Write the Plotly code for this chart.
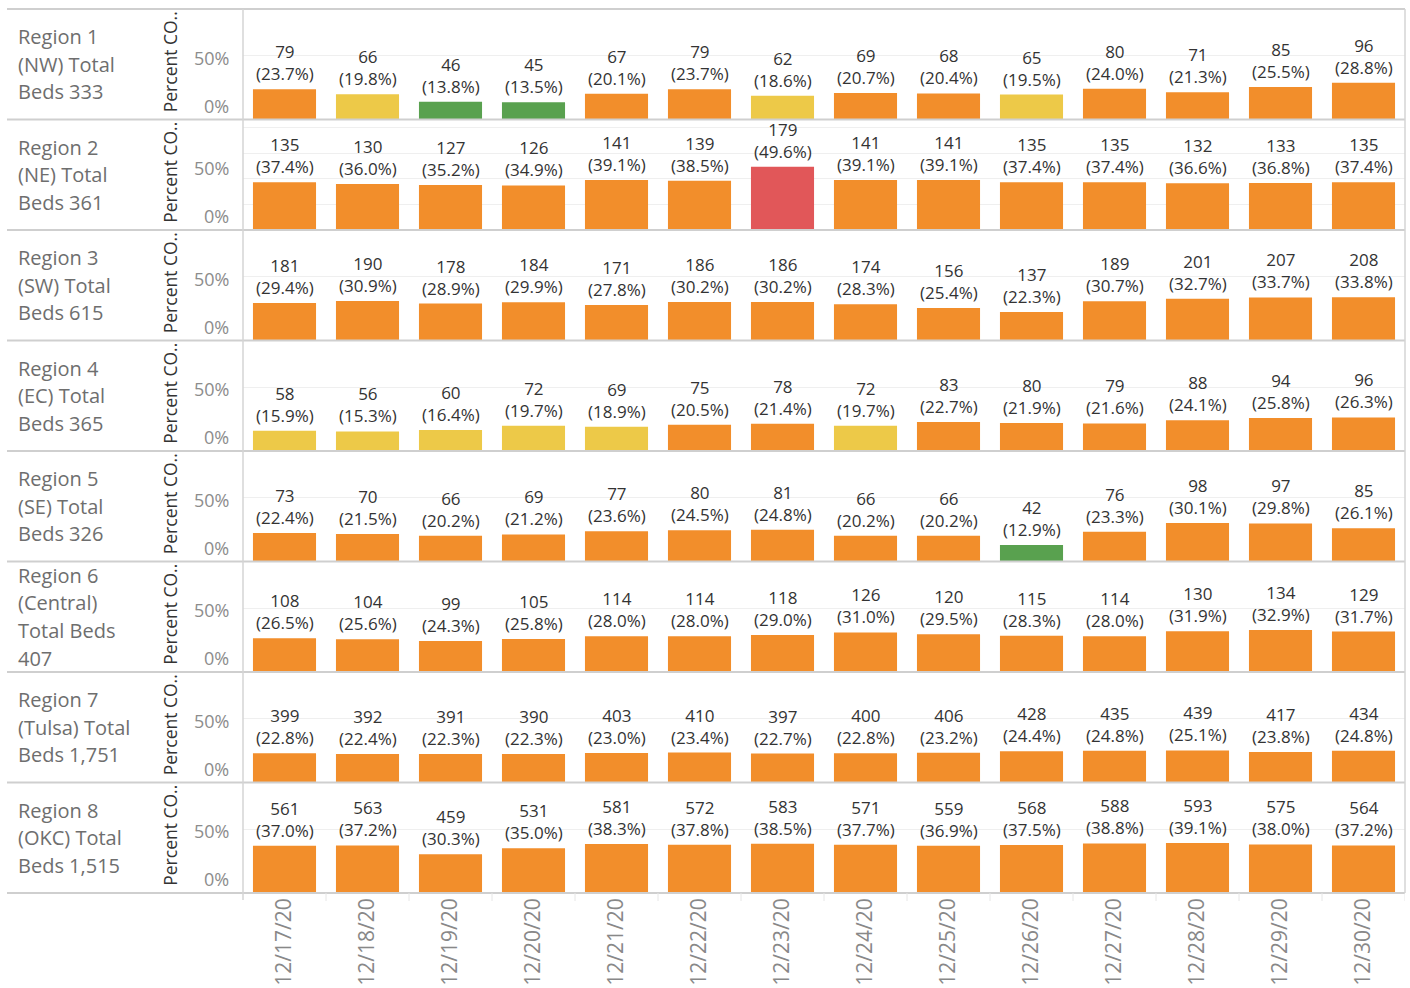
import plotly.graph_objects as go
from plotly.subplots import make_subplots

dates = ["12/17/20", "12/18/20", "12/19/20", "12/20/20", "12/21/20", "12/22/20", "12/23/20",
         "12/24/20", "12/25/20", "12/26/20", "12/27/20", "12/28/20", "12/29/20", "12/30/20"]

region_labels = [
    ["Region 1", "(NW) Total", "Beds 333"],
    ["Region 2", "(NE) Total", "Beds 361"],
    ["Region 3", "(SW) Total", "Beds 615"],
    ["Region 4", "(EC) Total", "Beds 365"],
    ["Region 5", "(SE) Total", "Beds 326"],
    ["Region 6", "(Central)", "Total Beds", "407"],
    ["Region 7", "(Tulsa) Total", "Beds 1,751"],
    ["Region 8", "(OKC) Total", "Beds 1,515"],
]

r1_count = [79, 66, 46, 45, 67, 79, 62, 69, 68, 65, 80, 71, 85, 96]
r1_pct = [23.7, 19.8, 13.8, 13.5, 20.1, 23.7, 18.6, 20.7, 20.4, 19.5, 24.0, 21.3, 25.5, 28.8]
r2_count = [135, 130, 127, 126, 141, 139, 179, 141, 141, 135, 135, 132, 133, 135]
r2_pct = [37.4, 36.0, 35.2, 34.9, 39.1, 38.5, 49.6, 39.1, 39.1, 37.4, 37.4, 36.6, 36.8, 37.4]
r3_count = [181, 190, 178, 184, 171, 186, 186, 174, 156, 137, 189, 201, 207, 208]
r3_pct = [29.4, 30.9, 28.9, 29.9, 27.8, 30.2, 30.2, 28.3, 25.4, 22.3, 30.7, 32.7, 33.7, 33.8]
r4_count = [58, 56, 60, 72, 69, 75, 78, 72, 83, 80, 79, 88, 94, 96]
r4_pct = [15.9, 15.3, 16.4, 19.7, 18.9, 20.5, 21.4, 19.7, 22.7, 21.9, 21.6, 24.1, 25.8, 26.3]
r5_count = [73, 70, 66, 69, 77, 80, 81, 66, 66, 42, 76, 98, 97, 85]
r5_pct = [22.4, 21.5, 20.2, 21.2, 23.6, 24.5, 24.8, 20.2, 20.2, 12.9, 23.3, 30.1, 29.8, 26.1]
r6_count = [108, 104, 99, 105, 114, 114, 118, 126, 120, 115, 114, 130, 134, 129]
r6_pct = [26.5, 25.6, 24.3, 25.8, 28.0, 28.0, 29.0, 31.0, 29.5, 28.3, 28.0, 31.9, 32.9, 31.7]
r7_count = [399, 392, 391, 390, 403, 410, 397, 400, 406, 428, 435, 439, 417, 434]
r7_pct = [22.8, 22.4, 22.3, 22.3, 23.0, 23.4, 22.7, 22.8, 23.2, 24.4, 24.8, 25.1, 23.8, 24.8]
r8_count = [561, 563, 459, 531, 581, 572, 583, 571, 559, 568, 588, 593, 575, 564]
r8_pct = [37.0, 37.2, 30.3, 35.0, 38.3, 37.8, 38.5, 37.7, 36.9, 37.5, 38.8, 39.1, 38.0, 37.2]

counts = [r1_count, r2_count, r3_count, r4_count, r5_count, r6_count, r7_count, r8_count]
pcts = [r1_pct, r2_pct, r3_pct, r4_pct, r5_pct, r6_pct, r7_pct, r8_pct]

GREEN, YELLOW, ORANGE, RED = "#59A14F", "#EDC948", "#F28E2B", "#E15759"


def band_color(p):
    if p < 15:
        return GREEN
    if p < 20:
        return YELLOW
    if p < 40:
        return ORANGE
    return RED


W, H = 1410, 988
ML, MR, MT, MB = 243, 5, 9, 95
PW = W - ML - MR
PH = H - MT - MB
N = 8


def px_x(px):
    return (px - ML) / PW


def px_y(py):
    return 1 - (py - MT) / PH


FONT = "Open Sans"

fig = make_subplots(rows=N, cols=1, shared_xaxes=True, vertical_spacing=0)

for i in range(N):
    fig.add_trace(
        go.Bar(
            x=dates,
            y=pcts[i],
            marker=dict(color=[band_color(p) for p in pcts[i]], line=dict(width=0)),
            hoverinfo="skip",
            showlegend=False,
        ),
        row=i + 1, col=1,
    )

annotations = []
LINE_GAP = 27.7
for i in range(N):
    yref = "y" if i == 0 else f"y{i + 1}"
    xref = "x" if i == 0 else f"x{i + 1}"
    for d, c, p in zip(dates, counts[i], pcts[i]):
        annotations.append(dict(
            x=d, y=p, xref=xref, yref=yref, text=f"{c}<br>({p:.1f}%)",
            showarrow=False, yanchor="bottom", yshift=2,
            font=dict(family=FONT, size=17, color="#333333"),
        ))
    row_top = MT + i * PH / N
    row_bot = MT + (i + 1) * PH / N
    row_mid = (row_top + row_bot) / 2
    lines = region_labels[i]
    nl = len(lines)
    for j, ln in enumerate(lines):
        yy = row_mid + (j - (nl - 1) / 2) * LINE_GAP
        annotations.append(dict(
            x=px_x(16), y=px_y(yy), xref="paper", yref="paper",
            xanchor="left", yanchor="middle", align="left", showarrow=False,
            text=ln, font=dict(family=FONT, size=20, color="#6e6e6e"),
        ))
    annotations.append(dict(
        x=px_x(170), y=px_y(row_mid - 2), xref="paper", yref="paper",
        xanchor="center", yanchor="middle", showarrow=False, textangle=-90,
        text="Percent CO..", font=dict(family=FONT, size=17.5, color="#333333"),
    ))
    annotations.append(dict(
        x=px_x(231), y=50, xref="paper", yref=yref, xanchor="right", yanchor="middle",
        yshift=-2, showarrow=False, text="50%", font=dict(family=FONT, size=18, color="#8c8c8c"),
    ))
    annotations.append(dict(
        x=px_x(231), y=0, xref="paper", yref=yref, xanchor="right", yanchor="bottom",
        yshift=0, showarrow=False, text="0%", font=dict(family=FONT, size=18, color="#8c8c8c"),
    ))

shapes = []
for i in range(N + 1):
    yy = 1 - i / N
    shapes.append(dict(type="line", xref="paper", yref="paper", x0=px_x(7), x1=1,
                       y0=yy, y1=yy, line=dict(color="#cfcfcf", width=2), layer="above"))
shapes.append(dict(type="line", xref="paper", yref="paper", x0=0, x1=0,
                   y0=px_y(900), y1=1, line=dict(color="#d4d4d4", width=1.5), layer="above"))
shapes.append(dict(type="line", xref="paper", yref="paper", x0=1, x1=1,
                   y0=0, y1=1, line=dict(color="#d4d4d4", width=1.5), layer="above"))
for k in range(len(dates)):
    shapes.append(dict(type="line", xref=f"x{N}", yref="paper", x0=k + 0.5, x1=k + 0.5,
                       y0=px_y(893), y1=px_y(901), line=dict(color="#e6e6e6", width=1)))

fig.update_layout(
    width=W, height=H,
    margin=dict(l=ML, r=MR, t=MT, b=MB, autoexpand=False),
    paper_bgcolor="white", plot_bgcolor="white",
    bargap=0.24,
    annotations=annotations,
    shapes=shapes,
    font=dict(family=FONT),
)

for i in range(N):
    grid_vals = [20, 40, 60, 80] if i == 1 else [50]
    fig.update_yaxes(
        range=[0, 86.5], tickvals=grid_vals, showticklabels=False, ticks="",
        showgrid=True, gridcolor="#efefef", gridwidth=1, zeroline=False,
        showline=False, fixedrange=True, automargin=False, row=i + 1, col=1,
    )
    fig.update_xaxes(
        type="category", categoryorder="array", categoryarray=dates,
        range=[-0.5, len(dates) - 0.5], showgrid=False, zeroline=False, showline=False,
        ticks="", showticklabels=(i == N - 1), automargin=False, row=i + 1, col=1,
    )

fig.update_xaxes(tickangle=-90, tickfont=dict(family=FONT, size=21, color="#888888"),
                 row=N, col=1)

fig.write_html("out.html", config={"displayModeBar": False},
               post_script="document.body.style.margin='0';")
